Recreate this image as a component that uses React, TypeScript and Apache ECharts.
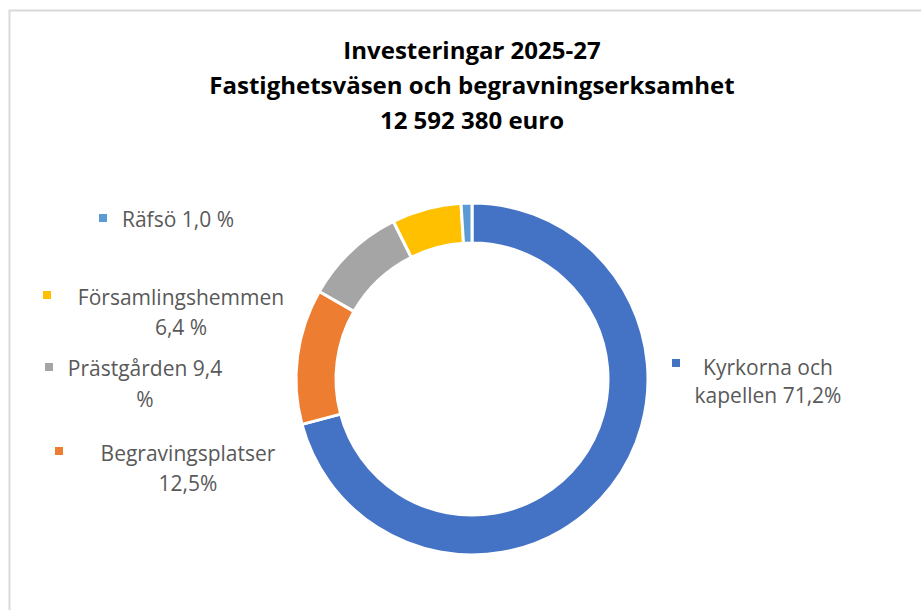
import React, { useEffect, useRef } from "react";
import * as echarts from "echarts";

const titleLines = ["Investeringar 2025-27", "Fastighetsväsen och begravningserksamhet", "12 592 380 euro"];
const categories = ["Kyrkorna och kapellen", "Begravingsplatser", "Prästgården", "Församlingshemmen", "Räfsö"];
const values = [71.2, 12.5, 9.4, 6.4, 1.0];
const colors = ["#4472C4", "#ED7D31", "#A5A5A5", "#FFC000", "#5B9BD5"];
const labelTexts = ["Kyrkorna och\nkapellen 71,2%", "Begravingsplatser\n12,5%", "Prästgården 9,4\n%", "Församlingshemmen\n6,4 %", "Räfsö 1,0 %"];

// label layout (positions only)
const labelPos = [
  { cx: 768, y: 367, mx: 672, my: 359, lh: 28 },
  { cx: 188, y: 453, mx: 55, my: 447, lh: 30 },
  { cx: 145, y: 368, mx: 45, my: 363, lh: 31 },
  { cx: 181, y: 297, mx: 43, my: 291, lh: 30 },
  { cx: 178, y: 219, mx: 99, my: 214, lh: 30 },
];

export default function App() {
  const ref = useRef<HTMLDivElement>(null);
  useEffect(() => {
    if (!ref.current) return;
    const chart = echarts.init(ref.current, null, { renderer: "svg" });
    const font = "'Open Sans', 'Liberation Sans', sans-serif";
    const graphics: any[] = [
      {
        type: "rect",
        shape: { x: 9.5, y: 10.5, width: 1000, height: 1000 },
        style: { fill: "none", stroke: "#d9d9d9", lineWidth: 2 },
        silent: true,
        z: -1,
      },
      {
        type: "text",
        x: 472,
        y: 32,
        style: {
          text: titleLines.join("\n"),
          align: "center",
          verticalAlign: "top",
          fontSize: 24,
          fontWeight: "bold",
          lineHeight: 35,
          fontFamily: font,
          fill: "#000000",
        },
      },
    ];
    categories.forEach((c, i) => {
      const p = labelPos[i];
      graphics.push({
        type: "rect",
        shape: { x: p.mx, y: p.my, width: 8, height: 8 },
        style: { fill: colors[i] },
        silent: true,
      });
      graphics.push({
        type: "text",
        x: p.cx,
        y: p.y - p.lh / 2,
        style: {
          text: labelTexts[i],
          align: "center",
          verticalAlign: "top",
          fontSize: 21,
          lineHeight: p.lh,
          fontFamily: font,
          fill: "#595959",
        },
      });
    });
    chart.setOption({
      animation: false,
      backgroundColor: "#ffffff",
      graphic: graphics,
      series: [
        {
          type: "pie",
          center: [472, 379],
          radius: [136, 176],
          startAngle: 90,
          clockwise: true,
          silent: true,
          label: { show: false },
          labelLine: { show: false },
          itemStyle: { borderColor: "#ffffff", borderWidth: 3 },
          data: categories.map((c, i) => ({ name: c, value: values[i], itemStyle: { color: colors[i] } })),
        },
      ],
    });
    return () => chart.dispose();
  }, []);
  return <div ref={ref} style={{ position: "fixed", left: 0, top: 0, width: 921, height: 610 }} />;
}
